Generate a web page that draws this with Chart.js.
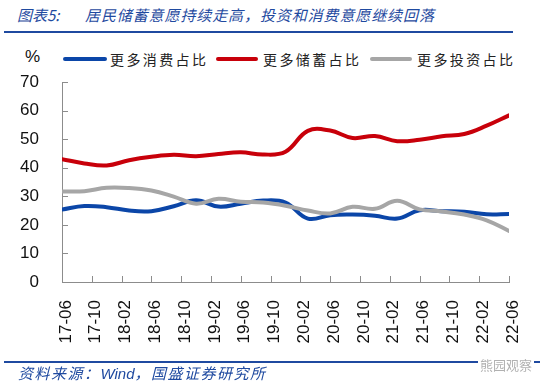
<!DOCTYPE html>
<html>
<head>
<meta charset="utf-8">
<script src="https://cdn.jsdelivr.net/npm/chart.js@4.4.0/dist/chart.umd.min.js"></script>
<style>
  body { margin: 0; width: 550px; height: 389px; background: #fff; position: relative; overflow: hidden; font-family: "Noto Sans CJK SC", sans-serif; }
  .abs { position: absolute; white-space: nowrap; }
  .title { color: #1f4aa0; font-style: italic; font-size: 15px; top: 4px; }
  .rule { position: absolute; left: 4px; height: 2px; background: #1f4aa0; }
  #chartBox { position: absolute; left: 0; top: 0; width: 550px; height: 389px; }
  .leg-line { position: absolute; height: 4px; border-radius: 2px; }
  .leg-text { position: absolute; font-size: 14px; letter-spacing: 2.4px; color: #222; top: 49px; }
</style>
</head>
<body>
<div class="abs title" style="left:17px;">图表5:</div>
<div class="abs title" style="left:85px; letter-spacing:0.9px;">居民储蓄意愿持续走高，投资和消费意愿继续回落</div>
<div class="rule" style="top:31px; width:509px;"></div>

<div class="abs" style="left:25px; top:47px; font-family:'Liberation Sans', Arial, sans-serif; font-size:17px; color:#111;">%</div>
<div id="legend"></div>

<div id="chartBox"><canvas id="chartContainer" width="550" height="389"></canvas></div>

<div class="rule" style="top:361px; width:536px;"></div>
<div class="abs" style="left:18px; top:362px; color:#1f4aa0; font-style:italic; font-size:15px; letter-spacing:1.5px;">资料来源：<span style="font-family:'Liberation Sans', Arial, sans-serif; letter-spacing:0;">Wind</span>，国盛证券研究所</div>
<div class="abs" style="left:478px; top:355px; color:#b0b0b0; font-size:13px; background:#fff; padding:0 2px;">熊园观察</div>

<script>
// quarterly survey points
var quarters = ['17-06','17-09','17-12','18-03','18-06','18-09','18-12','19-03','19-06','19-09','19-12',
                '20-03','20-06','20-09','20-12','21-03','21-06','21-09','21-12','22-03','22-06'];
var consumeVals = [25.4,26.6,26.2,25.0,24.8,26.5,28.6,26.4,27.4,28.5,27.8,22.2,23.4,23.6,23.2,22.2,25.1,24.8,24.6,23.7,23.8];
var saveVals    = [43.0,41.5,40.8,42.6,43.8,44.5,44.0,44.8,45.4,44.6,45.6,52.9,53.0,50.4,51.1,49.3,49.8,51.0,51.8,54.7,58.3];
var investVals  = [31.7,31.8,33.0,32.9,32.0,29.9,27.4,29.1,28.1,27.8,26.7,25.0,24.0,26.3,25.6,28.4,25.4,24.7,23.6,21.6,17.9];

var seriesNames = ['更多消费占比', '更多储蓄占比', '更多投资占比'];
var seriesColours = ['#0b46a8', '#c8000a', '#a6a6a6'];

var tickLabels = ['17-06','17-10','18-02','18-06','18-10','19-02','19-06','19-10',
                  '20-02','20-06','20-10','21-02','21-06','21-10','22-02','22-06'];
var yTicks = [0, 10, 20, 30, 40, 50, 60, 70];

// months since 17-06
function monthIndex(lbl){
    var p = lbl.split('-');
    return (parseInt(p[0], 10) - 17) * 12 + parseInt(p[1], 10) - 6;
}

function toPoints(vals){
    var pts = [];
    for (var i = 0; i < quarters.length; i++){
        pts.push({x: monthIndex(quarters[i]), y: vals[i]});
    }
    return pts;
}

// html legend
var legendPos = [[63, 107, 110], [216, 258, 263], [370, 412, 417]];
var legendHTML = '';
for (var i = 0; i < seriesNames.length; i++){
    var lp = legendPos[i];
    legendHTML += '<div class="leg-line" style="left:' + lp[0] + 'px;top:57px;width:' + (lp[1] - lp[0]) + 'px;background:' + seriesColours[i] + ';"></div>';
    legendHTML += '<div class="leg-text" style="left:' + lp[2] + 'px;">' + seriesNames[i] + '</div>';
}
document.getElementById('legend').innerHTML = legendHTML;

// small tick marks pointing into the plot
var innerTicks = {
    id: 'innerTicks',
    afterDraw: function(chart){
        var ctx = chart.ctx;
        var xs = chart.scales.x, ys = chart.scales.y;
        ctx.save();
        ctx.strokeStyle = '#8c8c8c';
        ctx.lineWidth = 1;
        ctx.beginPath();
        for (var i = 0; i < tickLabels.length; i++){
            var px = Math.round(xs.getPixelForValue(monthIndex(tickLabels[i]))) + 0.5;
            ctx.moveTo(px, ys.bottom);
            ctx.lineTo(px, ys.bottom - 6);
        }
        for (var j = 0; j < yTicks.length; j++){
            var py = Math.round(ys.getPixelForValue(yTicks[j])) + 0.5;
            ctx.moveTo(xs.left, py);
            ctx.lineTo(xs.left + 6, py);
        }
        ctx.stroke();
        ctx.restore();
    }
};

var datasets = [consumeVals, saveVals, investVals].map(function(vals, i){
    return {
        label: seriesNames[i],
        data: toPoints(vals),
        borderColor: seriesColours[i],
        backgroundColor: seriesColours[i],
        borderWidth: 4,
        pointRadius: 0,
        tension: 0.4,
        borderCapStyle: 'round'
    };
});
// draw order: savings, investment on top of consumption like the original
datasets[0].order = 2;
datasets[1].order = 1;
datasets[2].order = 0;

var tickFont = {family: "'Liberation Sans', Arial, sans-serif", size: 17};

var myChart = new Chart('chartContainer', {
    type: 'line',
    data: {datasets: datasets},
    options: {
        responsive: false,
        animation: false,
        layout: {padding: {top: 82, right: 41, left: 0, bottom: 0}},
        plugins: {legend: {display: false}, tooltip: {enabled: false}},
        scales: {
            x: {
                type: 'linear',
                min: 0,
                max: 60,
                afterBuildTicks: function(scale){
                    scale.ticks = tickLabels.map(function(l){ return {value: monthIndex(l)}; });
                },
                afterFit: function(scale){ scale.height = 389 - 282; },
                grid: {display: false},
                border: {display: true, color: '#8c8c8c', width: 1},
                ticks: {
                    color: '#111',
                    font: tickFont,
                    minRotation: 90,
                    maxRotation: 90,
                    autoSkip: false,
                    padding: 10,
                    labelOffset: 4,
                    callback: function(value){
                        for (var k = 0; k < tickLabels.length; k++){
                            if (monthIndex(tickLabels[k]) === value) return tickLabels[k];
                        }
                        return '';
                    }
                }
            },
            y: {
                min: 0,
                max: 70,
                afterFit: function(scale){ scale.width = 62; },
                grid: {display: false},
                border: {display: true, color: '#8c8c8c', width: 1},
                ticks: {color: '#111', font: tickFont, stepSize: 10, padding: 15}
            }
        }
    },
    plugins: [innerTicks]
});
</script>
</body>
</html>
